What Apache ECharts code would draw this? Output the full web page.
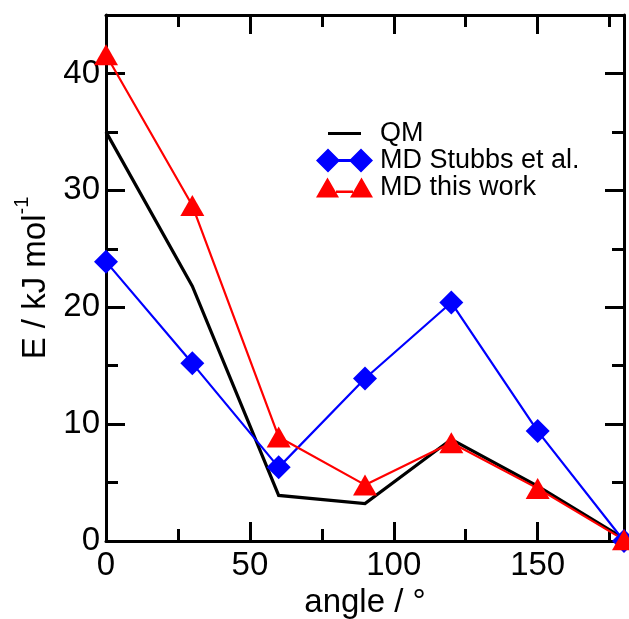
<!DOCTYPE html>
<html>
<head>
<meta charset="utf-8">
<style>
  html, body { margin: 0; padding: 0; background: #ffffff; }
  #chart { width: 629px; height: 619px; }
</style>
<script src="https://cdn.jsdelivr.net/npm/echarts@6/dist/echarts.min.js"></script>
</head>
<body>
<div id="chart"></div>
<script>
// Torsion profile: energy versus dihedral angle
const angles = [0, 30, 60, 90, 120, 150, 180];
const qmEnergy = [35.0, 21.8, 3.9, 3.2, 8.7, 4.7, 0.2];
const stubbsEnergy = [23.9, 15.2, 6.3, 13.9, 20.4, 9.4, 0.0];
const thisWorkEnergy = [41.6, 28.7, 8.9, 4.8, 8.4, 4.5, 0.1];

const seriesNames = ['QM', 'MD Stubbs et al.', 'MD this work'];
const xTicks = [0, 50, 100, 150];
const yTicks = [0, 10, 20, 30, 40];

const FONT = '"Liberation Sans", Arial, Helvetica, sans-serif';

function pairs(xs, ys) {
  return xs.map((x, i) => [x, ys[i]]);
}

// Legend glyphs: a short line joining two copies of the marker (57 x 24 box)
const boxCorners = 'M0 0 L0.01 0 L0 0.01 Z M57 24 L56.99 24 L57 23.99 Z ';
const iconLine = 'path://' + boxCorners + 'M12 10.5 L45 10.5 L45 13.5 L12 13.5 Z';
const iconDiamonds = 'path://' + boxCorners +
  'M0 12 L12 0 L24 12 L12 24 Z M33 12 L45 0 L57 12 L45 24 Z M22 10.5 L35 10.5 L35 13.5 L22 13.5 Z';
const iconTriangles = 'path://' + boxCorners +
  'M0 22 L11.5 2 L23 22 Z M34 22 L45.5 2 L57 22 Z M20 15 L37 15 L37 17.5 L20 17.5 Z';

const axisLineStyle = { color: '#000', width: 3 };
const tickStyle = { color: '#000', width: 3 };

function xAxisDef(pos, showLabels) {
  return {
    type: 'value',
    position: pos,
    min: 0,
    max: 180,
    interval: 50,
    name: showLabels ? 'angle / °' : '',
    nameLocation: 'middle',
    nameGap: 39,
    nameTextStyle: { fontFamily: FONT, fontSize: 33, color: '#000' },
    axisLine: { show: true, onZero: false, lineStyle: axisLineStyle },
    axisTick: { show: true, inside: true, length: 19, lineStyle: tickStyle },
    minorTick: { show: true, splitNumber: 2, length: 12, lineStyle: tickStyle },
    splitLine: { show: false },
    axisLabel: {
      show: showLabels,
      margin: 8,
      fontFamily: FONT,
      fontSize: 33,
      color: '#000',
      showMaxLabel: false,
      formatter: v => (xTicks.indexOf(v) >= 0 ? String(v) : '')
    }
  };
}

function yAxisDef(pos, showLabels) {
  return {
    type: 'value',
    position: pos,
    min: 0,
    max: 45,
    interval: 10,
    name: showLabels ? '{a|E / kJ mol}{s|-1}' : '',
    nameLocation: 'middle',
    nameGap: 50,
    nameRotate: 90,
    nameTextStyle: {
      fontFamily: FONT,
      fontSize: 33,
      color: '#000',
      rich: {
        a: { fontFamily: FONT, fontSize: 33, color: '#000', lineHeight: 40, verticalAlign: 'bottom' },
        s: { fontFamily: FONT, fontSize: 20, color: '#000', lineHeight: 40, verticalAlign: 'top' }
      }
    },
    axisLine: { show: true, onZero: false, lineStyle: axisLineStyle },
    axisTick: { show: true, inside: true, length: 19, lineStyle: tickStyle },
    minorTick: { show: true, splitNumber: 2, length: 12, lineStyle: tickStyle },
    splitLine: { show: false },
    axisLabel: {
      show: showLabels,
      margin: 6,
      fontFamily: FONT,
      fontSize: 33,
      color: '#000',
      showMaxLabel: false,
      formatter: v => (yTicks.indexOf(v) >= 0 ? String(v) : '')
    }
  };
}

const chart = echarts.init(document.getElementById('chart'), null, { renderer: 'canvas' });

chart.setOption({
  animation: false,
  backgroundColor: '#ffffff',
  grid: { left: 106, right: 5, top: 15, bottom: 78, containLabel: false, outerBoundsMode: 'none' },
  xAxis: [xAxisDef('bottom', true), xAxisDef('top', false)],
  yAxis: [yAxisDef('left', true), yAxisDef('right', false)],
  legend: {
    orient: 'vertical',
    left: 316,
    top: 120,
    padding: 0,
    itemWidth: 57,
    itemHeight: 24,
    itemGap: 0,
    selectedMode: false,
    textStyle: { fontFamily: FONT, fontSize: 27, lineHeight: 27, color: '#000', padding: [0, 0, 0, 2] },
    data: [
      { name: seriesNames[0], icon: iconLine, itemStyle: { color: '#000' } },
      { name: seriesNames[1], icon: iconDiamonds, itemStyle: { color: '#0000ff' } },
      { name: seriesNames[2], icon: iconTriangles, itemStyle: { color: '#ff0000' } }
    ]
  },
  series: [
    {
      name: seriesNames[0],
      type: 'line',
      data: pairs(angles, qmEnergy),
      symbol: 'none',
      clip: false,
      lineStyle: { color: '#000', width: 3.2, join: 'miter' },
      itemStyle: { color: '#000' }
    },
    {
      name: seriesNames[1],
      type: 'line',
      data: pairs(angles, stubbsEnergy),
      symbol: 'diamond',
      symbolSize: [24, 24],
      clip: false,
      lineStyle: { color: '#0000ff', width: 2.2 },
      itemStyle: { color: '#0000ff' }
    },
    {
      name: seriesNames[2],
      type: 'line',
      data: pairs(angles, thisWorkEnergy),
      symbol: 'triangle',
      symbolSize: [24, 21],
      clip: false,
      lineStyle: { color: '#ff0000', width: 2.2 },
      itemStyle: { color: '#ff0000' }
    }
  ]
});
</script>
</body>
</html>
